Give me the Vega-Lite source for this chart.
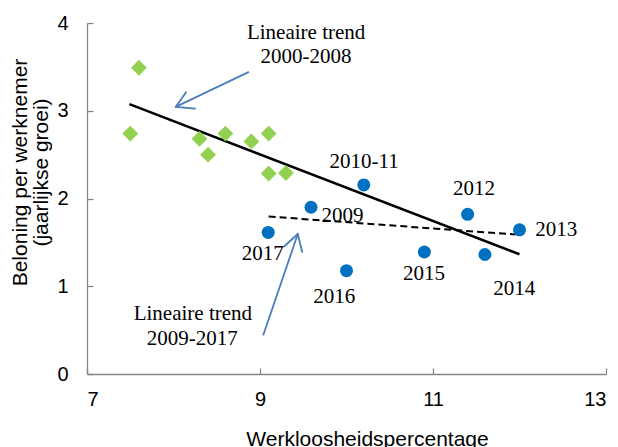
{
  "$schema": "https://vega.github.io/schema/vega-lite/v6.json",
  "width": 519,
  "height": 351,
  "autosize": {"type": "none"},
  "padding": {"left": 87, "top": 23, "right": 12, "bottom": 73},
  "background": "white",
  "datasets": {
    "trend1": [{"x": 7.49, "y": 3.075}, {"x": 12.0, "y": 1.365}],
    "trend2": [{"x": 9.1, "y": 1.795}, {"x": 11.95, "y": 1.59}],
    "arrows": [
      {"x": 8.866, "y": 3.44, "x2": 8.026, "y2": 3.044},
      {"x": 8.026, "y": 3.044, "x2": 8.145, "y2": 3.212},
      {"x": 8.026, "y": 3.044, "x2": 8.249, "y2": 3.025},
      {"x": 9.039, "y": 0.448, "x2": 9.437, "y2": 1.595},
      {"x": 9.437, "y": 1.595, "x2": 9.279, "y2": 1.453},
      {"x": 9.437, "y": 1.595, "x2": 9.487, "y2": 1.39}
    ],
    "early": [
      {"year": "2000-2008", "x": 7.6, "y": 3.49},
      {"year": "2000-2008", "x": 7.5, "y": 2.74},
      {"year": "2000-2008", "x": 8.3, "y": 2.68},
      {"year": "2000-2008", "x": 8.4, "y": 2.5},
      {"year": "2000-2008", "x": 8.6, "y": 2.74},
      {"year": "2000-2008", "x": 8.9, "y": 2.65},
      {"year": "2000-2008", "x": 9.1, "y": 2.74},
      {"year": "2000-2008", "x": 9.1, "y": 2.285},
      {"year": "2000-2008", "x": 9.3, "y": 2.29}
    ],
    "late": [
      {"year": "2009", "x": 9.59, "y": 1.9},
      {"year": "2010-11", "x": 10.2, "y": 2.155},
      {"year": "2012", "x": 11.4, "y": 1.82},
      {"year": "2013", "x": 12.0, "y": 1.643},
      {"year": "2014", "x": 11.6, "y": 1.362},
      {"year": "2015", "x": 10.9, "y": 1.39},
      {"year": "2016", "x": 10.0, "y": 1.177},
      {"year": "2017", "x": 9.095, "y": 1.613}
    ],
    "labels": [
      {"label": "2010-11", "x": 10.204, "y": 2.35},
      {"label": "2012", "x": 11.474, "y": 2.042},
      {"label": "2009", "x": 9.955, "y": 1.727},
      {"label": "2013", "x": 12.425, "y": 1.575},
      {"label": "2015", "x": 10.896, "y": 1.074},
      {"label": "2014", "x": 11.939, "y": 0.903},
      {"label": "2016", "x": 9.857, "y": 0.809},
      {"label": "2017", "x": 9.032, "y": 1.302},
      {"label": "Lineaire trend", "x": 9.533, "y": 3.815},
      {"label": "2000-2008", "x": 9.531, "y": 3.542},
      {"label": "Lineaire trend", "x": 8.224, "y": 0.618},
      {"label": "2009-2017", "x": 8.218, "y": 0.334}
    ]
  },
  "encoding": {
    "x": {
      "field": "x",
      "type": "quantitative",
      "scale": {"domain": [7, 13], "nice": false, "zero": false},
      "axis": {
        "title": "Werkloosheidspercentage",
        "values": [7, 9, 11, 13],
        "tickSize": -6,
        "labelPadding": 21,
        "titleX": 280,
        "titleY": 71,
        "titleBaseline": "alphabetic",
        "titleAlign": "center"
      }
    },
    "y": {
      "field": "y",
      "type": "quantitative",
      "scale": {"domain": [0, 4], "nice": false, "zero": true},
      "axis": {
        "title": ["Beloning per werknemer", "(jaarlijkse groei)"],
        "values": [0, 1, 2, 3, 4],
        "tickSize": -6,
        "labelPadding": 25,
        "titleX": -67,
        "titleY": 149,
        "titleAngle": -90,
        "titleBaseline": "middle",
        "titleAlign": "center",
        "titleLineHeight": 21
      }
    }
  },
  "layer": [
    {
      "data": {"name": "trend1"},
      "mark": {"type": "line", "color": "black", "strokeWidth": 2.5}
    },
    {
      "data": {"name": "trend2"},
      "mark": {"type": "line", "color": "black", "strokeWidth": 2, "strokeDash": [7, 4]}
    },
    {
      "data": {"name": "arrows"},
      "mark": {"type": "rule", "color": "#4a7ebb", "strokeWidth": 1.8, "strokeCap": "round"},
      "encoding": {"x2": {"field": "x2"}, "y2": {"field": "y2"}}
    },
    {
      "data": {"name": "early"},
      "mark": {"type": "point", "shape": "diamond", "filled": true, "size": 250, "color": "#92d050", "opacity": 1}
    },
    {
      "data": {"name": "late"},
      "mark": {"type": "point", "shape": "circle", "filled": true, "size": 169, "color": "#0070c0", "opacity": 1}
    },
    {
      "data": {"name": "labels"},
      "mark": {"type": "text", "font": "Liberation Serif", "fontSize": 21, "align": "center", "baseline": "alphabetic", "color": "black"},
      "encoding": {"text": {"field": "label"}}
    }
  ],
  "config": {
    "view": {"stroke": null},
    "axis": {
      "grid": false,
      "domainColor": "#868686",
      "domainWidth": 1.3,
      "tickColor": "#868686",
      "tickWidth": 1.3,
      "labelColor": "black",
      "titleColor": "black",
      "labelFont": "Liberation Sans",
      "titleFont": "Liberation Sans",
      "labelFontSize": 20,
      "titleFontSize": 21,
      "titleFontWeight": "normal"
    }
  }
}
